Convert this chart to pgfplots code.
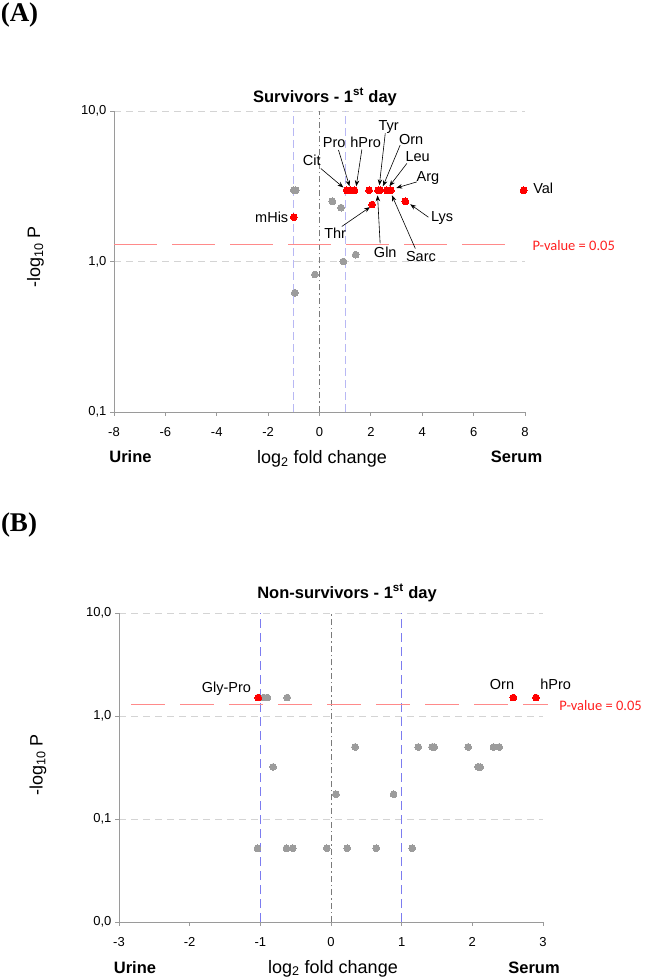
\documentclass[border=0pt]{standalone}
\usepackage{pgfplots}
\pgfplotsset{compat=1.18}
\usetikzlibrary{arrows.meta}
\usepackage{fontspec}
\setmainfont{Liberation Sans}
\newfontfamily\timesfont{Liberation Serif}
\newfontfamily\calib{Carlito}
\definecolor{ptred}{HTML}{FF0000}
\definecolor{ptgray}{HTML}{9C9C9C}
\definecolor{gridgray}{HTML}{D4D4D4}
\definecolor{pline}{HTML}{FF8A8A}
\definecolor{ptext}{HTML}{FF2020}
\definecolor{vblueA}{HTML}{B8B8F4}
\definecolor{vblueB}{HTML}{7C7CF0}
\definecolor{zgray}{HTML}{7A7A7A}
\definecolor{axgray}{HTML}{9A9A9A}
\pgfplotsset{
  volc/.style={
    scale only axis, clip=false,
    axis x line*=bottom, axis y line*=left,
    axis line style={axgray, line width=0.8pt},
    tick style={axgray, line width=0.8pt},
    tick align=outside, major tick length=4pt,
    yminorticks=false,
    ymajorgrids, major grid style={gridgray, line width=0.8pt, dash pattern=on 7pt off 5pt},
    ticklabel style={font=\fontsize{13}{15}\selectfont, text=black},
    xticklabel shift=8pt,
  },
  gr/.style={only marks, mark=*, mark size=3.4pt, color=ptgray, mark options={draw=ptgray, fill=ptgray, line width=0pt}},
  rd/.style={only marks, mark=*, mark size=3.4pt, color=ptred, mark options={draw=ptred, fill=ptred, line width=0pt}},
}
\tikzset{
  lab/.style={font=\fontsize{14.5}{16}\selectfont, inner sep=0pt},
  arr/.style={-{Stealth[length=6pt,width=4.5pt]}, line width=0.6pt, black},
}
\begin{document}
\begin{tikzpicture}[x=1pt,y=1pt]
\useasboundingbox (0,0) rectangle (646,980);
% ---------------- Panel A ----------------
\begin{axis}[ymode=log, volc, at={(114pt,568pt)}, anchor=south west, width=411pt, height=301pt,
  xmin=-8, xmax=8, ymin=0.1, ymax=10,
  xtick={-8,-6,-4,-2,0,2,4,6,8}, xticklabels={-8,-6,-4,-2,0,2,4,6,8},
  ytick={0.1,1,10}, yticklabels={{0,1},{1,0},{10,0}}]
\addplot[vblueA, line width=0.8pt, dash pattern=on 8pt off 4pt] coordinates {(-1,0.1) (-1,10)};
\addplot[vblueA, line width=0.8pt, dash pattern=on 8pt off 4pt] coordinates {(1,0.1) (1,10)};
\addplot[zgray, line width=0.8pt, dash pattern=on 6pt off 3pt on 1.5pt off 3pt] coordinates {(0,0.1) (0,10)};
\addplot[pline, line width=0.8pt, dash pattern=on 43pt off 15pt] coordinates {(-8,1.301) (7.6,1.301)};
\addplot[gr] coordinates {(-1.0,2.97) (-0.92,2.97) (-0.18,0.82) (-0.96,0.62) (0.50,2.51) (0.84,2.28) (0.93,1.0) (1.41,1.11)};
\addplot[rd] coordinates {(1.06,2.97) (1.19,2.97) (1.36,2.97) (1.93,2.97) (2.28,2.97) (2.36,2.97) (2.62,2.97) (2.78,2.97) (2.05,2.39) (3.34,2.51) (7.95,2.97) (-1.0,1.97)};
\node[lab] at (axis cs:-0.30,4.71) {Cit};
\draw[arr] (axis cs:0.05,4.15) -- (axis cs:0.93,3.10);
\node[lab] at (axis cs:0.57,6.19) {Pro};
\draw[arr] (axis cs:0.74,5.50) -- (axis cs:1.17,3.16);
\node[lab] at (axis cs:1.80,6.19) {hPro};
\draw[arr] (axis cs:1.65,5.55) -- (axis cs:1.43,3.16);
\node[lab] at (axis cs:2.69,7.86) {Tyr};
\draw[arr] (axis cs:2.56,7.10) -- (axis cs:2.33,3.21);
\node[lab] at (axis cs:3.57,6.48) {Orn};
\draw[arr] (axis cs:3.14,5.93) -- (axis cs:2.47,3.16);
\node[lab] at (axis cs:3.82,4.96) {Leu};
\draw[arr] (axis cs:3.40,4.48) -- (axis cs:2.72,3.16);
\node[lab] at (axis cs:4.22,3.61) {Arg};
\draw[arr] (axis cs:3.79,3.38) -- (axis cs:2.99,3.08);
\node[lab] at (axis cs:4.77,1.94) {Lys};
\draw[arr] (axis cs:4.24,1.97) -- (axis cs:3.53,2.40);
\node[lab] at (axis cs:0.61,1.53) {Thr};
\draw[arr] (axis cs:0.87,1.71) -- (axis cs:1.97,2.30);
\node[lab] at (axis cs:2.56,1.15) {Gln};
\draw[arr] (axis cs:2.36,1.32) -- (axis cs:2.26,2.75);
\node[lab] at (axis cs:3.95,1.08) {Sarc};
\draw[arr] (axis cs:3.73,1.22) -- (axis cs:2.82,2.75);
\node[lab] at (axis cs:8.71,3.05) {Val};
\node[lab] at (axis cs:-1.86,1.96) {mHis};
\node[anchor=west, inner sep=0pt, text=ptext, font=\calib\fontsize{14.5}{16}\selectfont] at (axis cs:8.29,1.27) {P-value = 0.05};
\end{axis}
% ---------------- Panel B ----------------
\begin{axis}[ymode=log, volc, at={(119pt,58pt)}, anchor=south west, width=424pt, height=309pt,
  xmin=-3, xmax=3, ymin=0.01, ymax=10,
  xtick={-3,-2,-1,0,1,2,3}, xticklabels={-3,-2,-1,0,1,2,3},
  ytick={0.01,0.1,1,10}, yticklabels={{0,0},{0,1},{1,0},{10,0}}]
\addplot[vblueB, line width=0.8pt, dash pattern=on 9pt off 5pt] coordinates {(-1,0.01) (-1,10)};
\addplot[vblueB, line width=0.8pt, dash pattern=on 9pt off 5pt] coordinates {(1,0.01) (1,10)};
\addplot[zgray, line width=0.8pt, dash pattern=on 6pt off 3pt on 1.5pt off 3pt] coordinates {(0,0.01) (0,10)};
\addplot[pline, line width=0.8pt, dash pattern=on 34pt off 15pt] coordinates {(-2.83,1.301) (3.07,1.301)};
\addplot[gr] coordinates {(-0.95,1.51) (-0.90,1.51) (-0.62,1.51) (-0.82,0.32) (0.34,0.50) (0.07,0.174) (0.885,0.174) (1.235,0.5) (1.43,0.5) (1.46,0.5) (1.94,0.5) (2.08,0.32) (2.11,0.32) (2.30,0.5) (2.38,0.5)
  (-1.04,0.052) (-0.63,0.052) (-0.54,0.052) (-0.06,0.052) (0.23,0.052) (0.64,0.052) (1.15,0.052)};
\addplot[rd] coordinates {(-1.03,1.51) (2.58,1.51) (2.90,1.51)};
\node[lab] at (axis cs:-1.48,1.82) {Gly-Pro};
\node[lab] at (axis cs:2.42,2.03) {Orn};
\node[lab] at (axis cs:3.18,2.03) {hPro};
\node[anchor=west, inner sep=0pt, text=ptext, font=\calib\fontsize{14.5}{16}\selectfont] at (axis cs:3.23,1.26) {P-value = 0.05};
\end{axis}
% ---------------- outer texts ----------------
\node[font=\timesfont\bfseries\fontsize{27}{30}\selectfont, inner sep=0pt] at (19.5,965) {(A)};
\node[font=\timesfont\bfseries\fontsize{27}{30}\selectfont, inner sep=0pt] at (19,455) {(B)};
\node[font=\bfseries\fontsize{16.5}{18}\selectfont, inner sep=0pt] at (325,883) {Survivors - 1\textsuperscript{st} day};
\node[font=\bfseries\fontsize{16.5}{18}\selectfont, inner sep=0pt] at (347,387) {Non-survivors - 1\textsuperscript{st} day};
\node[rotate=90, font=\fontsize{18}{20}\selectfont, inner sep=0pt] at (35.5,723) {-log\textsubscript{10} P};
\node[rotate=90, font=\fontsize{18}{20}\selectfont, inner sep=0pt] at (38,215) {-log\textsubscript{10} P};
\node[font=\bfseries\fontsize{16.5}{18}\selectfont, inner sep=0pt] at (130.5,523) {Urine};
\node[font=\fontsize{18}{20}\selectfont, inner sep=0pt] at (322,521) {log\textsubscript{2} fold change};
\node[font=\bfseries\fontsize{16.5}{18}\selectfont, inner sep=0pt] at (516.5,523) {Serum};
\node[font=\bfseries\fontsize{16.5}{18}\selectfont, inner sep=0pt] at (135,12.5) {Urine};
\node[font=\fontsize{18}{20}\selectfont, inner sep=0pt] at (333,11.5) {log\textsubscript{2} fold change};
\node[font=\bfseries\fontsize{16.5}{18}\selectfont, inner sep=0pt] at (534,12.5) {Serum};
\end{tikzpicture}
\end{document}
